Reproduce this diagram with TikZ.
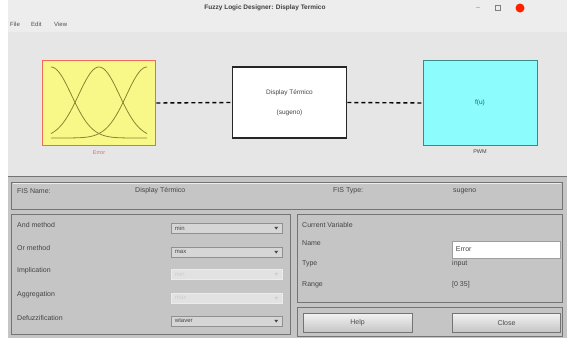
\documentclass[tikz,border=0pt]{standalone}
\usepackage{fontspec}
\setmainfont{Liberation Sans}
\definecolor{titlebg}{HTML}{EDEDED}
\definecolor{toppanel}{HTML}{E6E6E6}
\definecolor{lowpanel}{HTML}{C5C5C5}
\definecolor{edge}{HTML}{747474}
\definecolor{txt}{HTML}{444444}
\definecolor{yfill}{HTML}{F8F888}
\definecolor{yedge}{HTML}{F06A55}
\definecolor{curve}{HTML}{868636}
\definecolor{cfill}{HTML}{8CFCFC}
\definecolor{cedge}{HTML}{3A8A8A}
\definecolor{ddfill}{HTML}{D6D6D6}
\definecolor{ddoff}{HTML}{E2E2E2}
\definecolor{errlabel}{HTML}{D86A70}
\begin{document}
\begin{tikzpicture}[x=1pt,y=-1pt,
  lbl/.style={font=\fontsize{7}{8}\selectfont, text=txt, inner sep=0pt, anchor=west},
  panel/.style={draw=edge, line width=0.8pt, fill=lowpanel},
  dd/.style={draw=edge!80, line width=0.5pt, fill=ddfill},
  ddo/.style={draw=white!85!gray, line width=0.5pt, fill=ddoff},
  btn/.style={draw=edge, line width=0.6pt, fill=ddfill, top color=white!90!gray, bottom color=gray!45}
]
\useasboundingbox (0,0) rectangle (571,338);
\fill[white] (0,0) rectangle (571,338);
% title bar and menu
\fill[titlebg] (8,0) rectangle (567,32);
\node[font=\bfseries\fontsize{6.5}{7}\selectfont, text=black!75, inner sep=0pt] (title) at (265,8) {Fuzzy Logic Designer: Display Termico};
\node[font=\fontsize{7}{8}\selectfont, text=gray, inner sep=0pt] (minb) at (478,8) {--};
\node[draw=gray, minimum width=5pt, minimum height=5pt, inner sep=0pt] (maxb) at (498,8) {};
\node[circle, fill=red!75!orange, minimum size=9pt, inner sep=0pt] (closeb) at (520,8) {};
\node[lbl, font=\fontsize{6}{7}\selectfont, text=black!70] (mfile) at (10,24) {File};
\node[lbl, font=\fontsize{6}{7}\selectfont, text=black!70] (medit) at (31,24) {Edit};
\node[lbl, font=\fontsize{6}{7}\selectfont, text=black!70] (mview) at (54,24) {View};
% top panel
\fill[toppanel] (8,32) rectangle (567,176);
\fill[lowpanel] (8,176) rectangle (567,338);
\draw[edge, line width=1pt] (8,176) -- (567,176);
% boxes
\node[draw=yedge, fill=yfill, line width=1.6pt, minimum width=113pt, minimum height=85pt, inner sep=0pt] (inp) at (99,103) {};
\node[draw=black!85, fill=white, line width=1.6pt, minimum width=114pt, minimum height=71pt, inner sep=0pt, align=center, font=\fontsize{6.5}{7}\selectfont, text=txt] (sys) at (289.5,102.5) {Display Térmico\\[13pt](sugeno)};
\node[draw=cedge, fill=cfill, line width=0.6pt, minimum width=114pt, minimum height=85pt, inner sep=0pt, font=\fontsize{6.5}{7}\selectfont, text=cedge!70!black] (out) at (480,103) {f(u)};
\draw[black, line width=1.4pt, dash pattern=on 4pt off 3pt] (inp.east) -- (sys.west);
\draw[black, line width=1.4pt, dash pattern=on 4pt off 3pt] (sys.east) -- (out.west);
\node[font=\fontsize{5.5}{6}\selectfont, text=errlabel, inner sep=0pt, below=4pt] (inplbl) at (inp.south) {Error};
\node[font=\fontsize{5.5}{6}\selectfont, text=txt, inner sep=0pt, below=4pt] (outlbl) at (out.south) {PWM};
% membership functions
\begin{scope}[curve, line width=0.8pt]
\draw plot[domain=51:147, samples=60, smooth] (\x, {138-71*exp(-((\x-51)^2)/(2*20.4^2))});
\draw plot[domain=51:147, samples=60, smooth] (\x, {138-71*exp(-((\x-99)^2)/(2*20.4^2))});
\draw plot[domain=51:147, samples=60, smooth] (\x, {138-71*exp(-((\x-147)^2)/(2*20.4^2))});
\end{scope}
% FIS row
\draw[panel] (11,182) rectangle (562,209);
\draw[white!85!gray, line width=0.5pt] (12.5,183.5) -- (560.5,183.5);
\node[lbl] (fisname) at (17,191) {FIS Name:};
\node[lbl] (fisnamev) at (135,191) {Display Térmico};
\node[lbl] (fistype) at (333,191) {FIS Type:};
\node[lbl] (fistypev) at (453,191) {sugeno};
% left panel
\draw[panel] (11,214) rectangle (290,334);
\node[lbl] (andm) at (17,225) {And method};
\node[lbl] (orm) at (17,248) {Or method};
\node[lbl] (impl) at (17,271) {Implication};
\node[lbl] (aggr) at (17,295) {Aggregation};
\node[lbl] (defz) at (17,318) {Defuzzification};
\foreach \n/\yy/\t/\s in {ddand/228/min/dd, ddor/252/max/dd, ddimp/274/min/ddo, ddagg/298/max/ddo, dddef/321/wtaver/dd}{
  \node[\s, minimum width=111pt, minimum height=10pt, inner sep=0pt] (\n) at (226.5,\yy) {};
}
\node[lbl, font=\fontsize{6}{7}\selectfont] (ddandt) at ([xshift=4pt]ddand.west) {min};
\node[lbl, font=\fontsize{6}{7}\selectfont] (ddort) at ([xshift=4pt]ddor.west) {max};
\node[lbl, font=\fontsize{6}{7}\selectfont, text=gray!40] (ddimpt) at ([xshift=4pt]ddimp.west) {min};
\node[lbl, font=\fontsize{6}{7}\selectfont, text=gray!40] (ddaggt) at ([xshift=4pt]ddagg.west) {max};
\node[lbl, font=\fontsize{6}{7}\selectfont] (dddeft) at ([xshift=4pt]dddef.west) {wtaver};
\foreach \n/\c in {ddand/txt, ddor/txt, ddimp/gray!40, ddagg/gray!40, dddef/txt}{
  \fill[\c] ([xshift=-8pt,yshift=1.2pt]\n.east) -- ([xshift=-4pt,yshift=1.2pt]\n.east) -- ([xshift=-6pt,yshift=-1.5pt]\n.east) -- cycle;
}
% right upper panel
\draw[panel] (297,214) rectangle (562,302);
\node[lbl] (curvar) at (302,225) {Current Variable};
\node[lbl] (nm) at (302,243) {Name};
\node[draw=edge!70, fill=white, line width=0.5pt, minimum width=108pt, minimum height=17pt, inner sep=0pt] (namebox) at (506,249.5) {};
\node[lbl] (namev) at ([xshift=4pt]namebox.west) {Error};
\node[lbl] (tp) at (302,264) {Type};
\node[lbl] (tpv) at (452,264) {input};
\node[lbl] (rg) at (302,285) {Range};
\node[lbl] (rgv) at (452,285) {[0 35]};
% right lower panel
\draw[panel] (297,307) rectangle (562,336);
\node[btn, minimum width=109pt, minimum height=19pt, inner sep=0pt, font=\fontsize{7}{8}\selectfont, text=black!70] (help) at (357.5,322.5) {Help};
\node[btn, minimum width=108pt, minimum height=19pt, inner sep=0pt, font=\fontsize{7}{8}\selectfont, text=black!70] (close) at (506.5,322.5) {Close};
\end{tikzpicture}
\end{document}
